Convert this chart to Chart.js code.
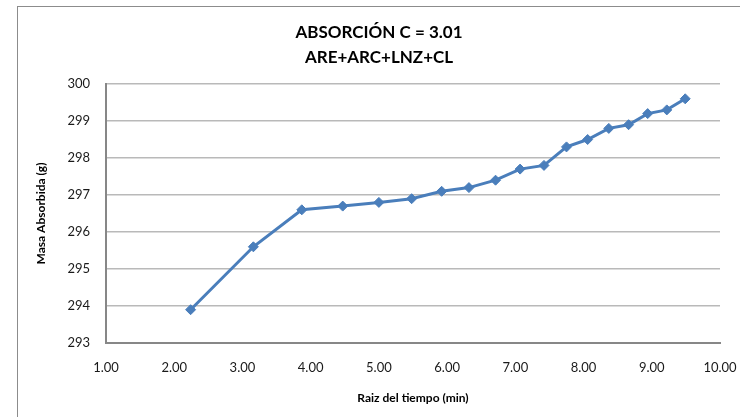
<!DOCTYPE html>
<html>
<head>
<meta charset="utf-8">
<script src="https://cdn.jsdelivr.net/npm/chart.js@4.4.1/dist/chart.umd.min.js"></script>
<style>
  html, body { margin: 0; padding: 0; background: #fff; overflow: hidden; }
  #frame {
    position: absolute; left: 17px; top: 6px;
    width: 740px; height: 420px;
    border-left: 1px solid #8c8c8c; border-top: 1px solid #8c8c8c;
  }
  #wrap { position: absolute; left: 0; top: 0; width: 722px; height: 410px; }
</style>
</head>
<body>
<div id="frame"><div id="wrap"><canvas id="absorcionChart"></canvas></div></div>
<script>
// Raiz del tiempo (min) and mass readings
var raizTiempo = [2.24, 3.16, 3.87, 4.47, 5.00, 5.48, 5.92, 6.32, 6.71, 7.07, 7.42, 7.75, 8.06, 8.37, 8.66, 8.94, 9.22, 9.49];
var masaAbsorbida = [293.9, 295.6, 296.6, 296.7, 296.8, 296.9, 297.1, 297.2, 297.4, 297.7, 297.8, 298.3, 298.5, 298.8, 298.9, 299.2, 299.3, 299.6];
var tituloLineas = ["ABSORCIÓN C = 3.01", "ARE+ARC+LNZ+CL"];

var puntos = raizTiempo.map(function (x, i) { return { x: x, y: masaAbsorbida[i] }; });

var fontFamily = "Lato, 'Open Sans', sans-serif";
var serieColor = "#4a7ebb";

var ctx = document.getElementById("absorcionChart").getContext("2d");
var absorcionChart = new Chart(ctx, {
  type: "scatter",
  data: {
    datasets: [
      {
        label: "Masa Absorbida",
        data: puntos,
        showLine: true,
        borderColor: serieColor,
        backgroundColor: serieColor,
        borderWidth: 3,
        pointStyle: "rectRot",
        pointRadius: 5,
        pointBorderWidth: 1,
        pointBorderColor: serieColor,
        tension: 0,
      },
    ],
  },
  options: {
    responsive: true,
    maintainAspectRatio: false,
    animation: false,
    layout: { padding: 0 },
    plugins: {
      legend: { display: false },
      tooltip: { enabled: false },
      title: {
        display: true,
        text: tituloLineas,
        color: "#000",
        font: { family: fontFamily, size: 17, weight: "bold", lineHeight: "25px" },
        padding: { top: 13, bottom: 14 },
      },
    },
    scales: {
      x: {
        type: "linear",
        min: 1,
        max: 10,
        afterFit: function (scale) {
          scale.height = 74;
          scale.paddingRight = 20;
        },
        ticks: {
          stepSize: 1,
          padding: 17,
          color: "#1a1a1a",
          font: { family: fontFamily, size: 13 },
          maxRotation: 0,
          callback: function (v) { return v.toFixed(2); },
        },
        grid: { display: false, drawTicks: false },
        border: { display: true, color: "#878787", width: 2 },
        title: {
          display: true,
          text: "Raiz del tiempo (min)",
          color: "#000",
          font: { family: fontFamily, size: 12, weight: "bold" },
          padding: 12,
        },
      },
      y: {
        min: 293,
        max: 300,
        afterFit: function (scale) { scale.width = 88; },
        ticks: {
          stepSize: 1,
          padding: 16,
          color: "#1a1a1a",
          font: { family: fontFamily, size: 13 },
        },
        grid: { color: "#b9b9b9", lineWidth: 1.5, drawTicks: false },
        border: { display: true, color: "#878787", width: 2 },
        title: {
          display: true,
          text: "Masa Absorbida (g)",
          color: "#000",
          font: { family: fontFamily, size: 12, weight: "bold" },
          padding: 16,
        },
      },
    },
  },
});
</script>
</body>
</html>
